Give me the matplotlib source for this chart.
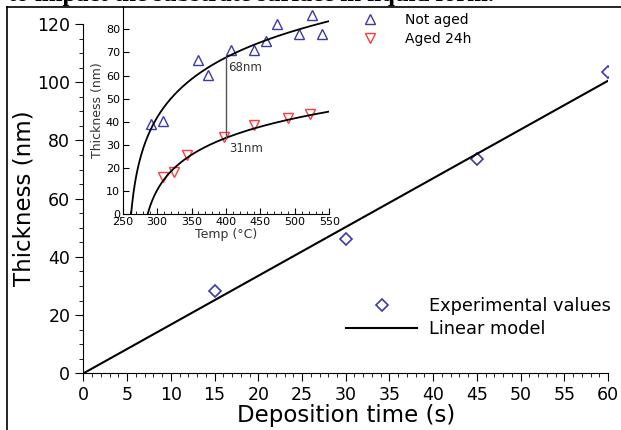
import numpy as np
import matplotlib.pyplot as plt
from matplotlib.lines import Line2D

# main plot: thickness vs deposition time
dep_time = [15, 30, 45, 60]
thickness = [28.3, 46.1, 73.6, 103.5]
lin_time = [0, 60]
lin_thick = [0, 100.5]

# inset: thickness vs temperature
temp_not_aged = [290.6, 309, 358.9, 374.4, 407.3, 440.2, 457.6, 474.5, 506, 525.3, 539.8]
thick_not_aged = [38.9, 40.4, 66.7, 60.1, 71.1, 71.1, 75.1, 82.3, 78, 86.2, 78]
temp_aged = [309, 324.5, 343.9, 397.1, 440.2, 490.5, 522.4]
thick_aged = [16, 18.5, 25.7, 33.6, 38.5, 41.5, 43.4]

# log fit parameters: y = a * ln((T - T1) / c)
fit_not_aged = (22.05, 255.5, 6.66)
fit_aged = (14.6, 273.0, 13.2)
t_mark = 400


def log_fit(p, T):
    a, t1, c = p
    return a * np.log((T - t1) / c)


blue = "#3a3aa8"
red = "#ff3b3b"

fig = plt.figure(figsize=(6.21, 4.3), dpi=100)

# text cut off at the top of the page crop + frame
fig.text(0.013, 1.0 - 1.5 / 430, "to impact the substrate surface in liquid form.",
         family="Liberation Serif", fontsize=17.8, fontweight="bold", va="baseline")
fig.add_artist(Line2D([7 / 621, 1], [1 - 7 / 430, 1 - 7 / 430], color="black", lw=1.2,
                      transform=fig.transFigure))
fig.add_artist(Line2D([7 / 621, 7 / 621], [0, 1 - 7 / 430], color="black", lw=1.2,
                      transform=fig.transFigure))

ax = fig.add_axes([83.5 / 621, 1 - 373.3 / 430, (608 - 83.5) / 621, (373.3 - 24) / 430])
ax.plot(dep_time, thickness, "D", ms=6, mfc="none", mec=blue, mew=1.2,
        label="Experimental values")
ax.plot(lin_time, lin_thick, "-", color="black", lw=1.5, label="Linear model")
ax.set_xlim(0, 60)
ax.set_ylim(0, 120)
ax.set_xticks(np.arange(0, 61, 5))
ax.set_xticks(np.arange(0, 61, 1), minor=True)
ax.set_yticks(np.arange(0, 121, 20))
ax.set_yticks(np.arange(0, 121, 5), minor=True)
ax.tick_params(which="major", direction="out", length=6, labelsize=12.5)
ax.tick_params(which="minor", direction="out", length=3)
ax.spines["top"].set_visible(False)
ax.spines["right"].set_visible(False)
ax.set_xlabel("Deposition time (s)", fontsize=16.5, labelpad=0)
ax.set_ylabel("Thickness (nm)", fontsize=16.5, labelpad=1)
ax.legend(loc="upper left", bbox_to_anchor=(346 / 621, 1 - 297 / 430),
          bbox_transform=fig.transFigure, frameon=False, fontsize=12.8,
          handlelength=4.0, handletextpad=0.65, labelspacing=0.3, borderpad=0,
          borderaxespad=0)

# inset
axi = fig.add_axes([122.7 / 621, 1 - 214.3 / 430, (329.3 - 122.7) / 621, (214.3 - 6.2) / 430])
axi.plot(temp_not_aged, thick_not_aged, "^", ms=7, mfc="none", mec=blue, mew=1,
         label="Not aged")
axi.plot(temp_aged, thick_aged, "v", ms=7, mfc="none", mec=red, mew=1,
         label="Aged 24h")

T = np.linspace(fit_not_aged[1] + fit_not_aged[2], 550, 400)
axi.plot(T, log_fit(fit_not_aged, T), color="black", lw=1.3)
T = np.linspace(fit_aged[1] + fit_aged[2], 550, 400)
axi.plot(T, log_fit(fit_aged, T), color="black", lw=1.3)

y_top = log_fit(fit_not_aged, t_mark)
y_bot = log_fit(fit_aged, t_mark)
axi.plot([t_mark, t_mark], [y_bot, y_top], color="#555555", lw=1)
axi.text(t_mark + 3, y_top - 4.5, f"{y_top:.0f}nm", fontsize=8.5, color="#333333",
         va="center")
axi.text(t_mark + 5, 28.4, "31nm", fontsize=8.5, color="#333333", va="center")

axi.set_xlim(250, 550)
axi.set_ylim(0, 90)
axi.set_xticks(np.arange(250, 551, 50))
axi.set_xticks(np.arange(250, 551, 10), minor=True)
axi.set_yticks(np.arange(0, 81, 10))
axi.tick_params(which="major", direction="in", length=4, labelsize=8, pad=2)
axi.tick_params(which="minor", direction="in", length=2.5)
axi.spines["top"].set_visible(False)
axi.spines["right"].set_visible(False)
axi.patch.set_alpha(0)
axi.set_xlabel("Temp (°C)", fontsize=9, labelpad=1, color="#333333")
axi.set_ylabel("Thickness (nm)", fontsize=9, labelpad=1, color="#333333")
axi.legend(loc="upper left", bbox_to_anchor=(363 / 621, 1 - 13 / 430),
           bbox_transform=fig.transFigure, frameon=False, fontsize=10,
           handlelength=1, handletextpad=2, labelspacing=0.35, borderpad=0,
           borderaxespad=0)

fig.savefig("out.png", dpi=100)
